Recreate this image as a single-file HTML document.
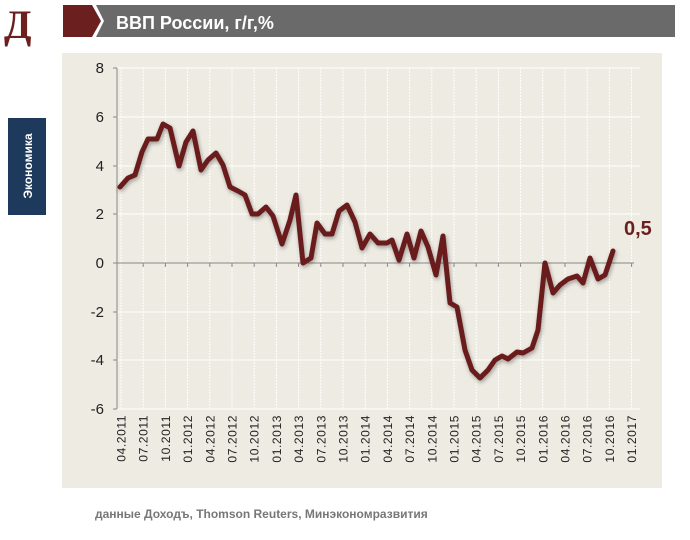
<!DOCTYPE html>
<html><head><meta charset="utf-8"><style>
body{margin:0;width:690px;height:535px;background:#fff;overflow:hidden;font-family:"Liberation Sans",sans-serif;}
</style></head><body>
<svg width="690" height="535" viewBox="0 0 690 535" xmlns="http://www.w3.org/2000/svg">
<defs><filter id="sh" x="-10%" y="-10%" width="120%" height="120%"><feGaussianBlur in="SourceAlpha" stdDeviation="2"/><feOffset dx="1" dy="2"/><feComponentTransfer><feFuncA type="linear" slope="0.35"/></feComponentTransfer><feMerge><feMergeNode/><feMergeNode in="SourceGraphic"/></feMerge></filter></defs>
<text x="4" y="38" font-family="Liberation Serif,serif" font-weight="bold" font-size="40" fill="#6b1f1f">Д</text>
<polygon points="96,5 675,5 675,37 96,37 104,21" fill="#6a6a6a"/>
<polygon points="63,5 92,5 101,21 92,37 63,37" fill="#6b1f1f"/>
<text x="116" y="29" font-size="18" font-weight="bold" fill="#fff">ВВП России, г/г,%</text>
<rect x="8" y="118" width="38" height="97" fill="#1d3a5c"/>
<text transform="translate(32,166) rotate(-90)" text-anchor="middle" font-size="12" font-weight="bold" fill="#fff">Экономика</text>
<rect x="62" y="53" width="600" height="435" fill="#edebe2"/>
<g stroke="#fff" stroke-width="1">
<line x1="117" y1="68" x2="640" y2="68"/><line x1="117" y1="117" x2="640" y2="117"/><line x1="117" y1="166" x2="640" y2="166"/><line x1="117" y1="214" x2="640" y2="214"/><line x1="117" y1="312" x2="640" y2="312"/><line x1="117" y1="360" x2="640" y2="360"/><line x1="117" y1="409" x2="640" y2="409"/>
</g>
<g stroke="#fff" stroke-width="1" stroke-dasharray="2,1">
<path d="M121,68V409M143.2,68V409M165.4,68V409M187.6,68V409M209.8,68V409M232,68V409M254.2,68V409M276.4,68V409M298.6,68V409M320.8,68V409M343,68V409M365.2,68V409M387.4,68V409M409.6,68V409M431.8,68V409M454,68V409M476.2,68V409M498.4,68V409M520.6,68V409M542.8,68V409M565,68V409M587.2,68V409M609.4,68V409M631.6,68V409"/>
</g>
<g stroke="#888" stroke-width="1">
<line x1="117" y1="68" x2="117" y2="409"/><line x1="117" y1="263" x2="634" y2="263"/>
<path d="M113,68H117M113,117H117M113,166H117M113,214H117M113,263H117M113,312H117M113,360H117M113,409H117"/>
<path d="M143.2,263v4M165.4,263v4M187.6,263v4M209.8,263v4M232,263v4M254.2,263v4M276.4,263v4M298.6,263v4M320.8,263v4M343,263v4M365.2,263v4M387.4,263v4M409.6,263v4M431.8,263v4M454,263v4M476.2,263v4M498.4,263v4M520.6,263v4M542.8,263v4M565,263v4M587.2,263v4M609.4,263v4M631.6,263v4"/>
</g>
<g font-size="15" fill="#222" text-anchor="end">
<text x="104" y="73">8</text><text x="104" y="122">6</text><text x="104" y="171">4</text><text x="104" y="219">2</text><text x="104" y="268">0</text><text x="104" y="317">-2</text><text x="104" y="365">-4</text><text x="104" y="414">-6</text>
</g>
<g font-size="12" fill="#222" text-anchor="end" letter-spacing="0.6">
<text transform="translate(125.5,415) rotate(-90)">04.2011</text><text transform="translate(147.7,415) rotate(-90)">07.2011</text><text transform="translate(169.9,415) rotate(-90)">10.2011</text><text transform="translate(192.1,415) rotate(-90)">01.2012</text><text transform="translate(214.3,415) rotate(-90)">04.2012</text><text transform="translate(236.5,415) rotate(-90)">07.2012</text><text transform="translate(258.7,415) rotate(-90)">10.2012</text><text transform="translate(280.9,415) rotate(-90)">01.2013</text><text transform="translate(303.1,415) rotate(-90)">04.2013</text><text transform="translate(325.3,415) rotate(-90)">07.2013</text><text transform="translate(347.5,415) rotate(-90)">10.2013</text><text transform="translate(369.7,415) rotate(-90)">01.2014</text><text transform="translate(391.9,415) rotate(-90)">04.2014</text><text transform="translate(414.1,415) rotate(-90)">07.2014</text><text transform="translate(436.3,415) rotate(-90)">10.2014</text><text transform="translate(458.5,415) rotate(-90)">01.2015</text><text transform="translate(480.7,415) rotate(-90)">04.2015</text><text transform="translate(502.9,415) rotate(-90)">07.2015</text><text transform="translate(525.1,415) rotate(-90)">10.2015</text><text transform="translate(547.3,415) rotate(-90)">01.2016</text><text transform="translate(569.5,415) rotate(-90)">04.2016</text><text transform="translate(591.7,415) rotate(-90)">07.2016</text><text transform="translate(613.9,415) rotate(-90)">10.2016</text><text transform="translate(636.1,415) rotate(-90)">01.2017</text>
</g>
<polyline filter="url(#sh)" fill="none" stroke="#6b1f1f" stroke-width="5" stroke-linejoin="round" stroke-linecap="round" points="120,187 128,178 135,175 142,152 148,139 157,139 163,124 170,128 179,166 186,142 193,131 201,170 208,160 216,153 223,165 230,187 238,191 245,195 252,214 258,214 266,207 273,216 282,244 290,220 296,195 303,263 311,258 317,223 325,234 332,234 339,211 347,205 355,222 362,248 370,234 378,243 387,243 392,240 399,260 407,234 414,258 421,231 428,247 436,275 443,236 450,303 457,307 465,350 472,370 480,378 488,370 495,360 502,356 508,359 517,352 523,353 532,348 538,330 545,263 553,293 560,285 568,279 577,276 583,283 590,258 598,279 605,275 613,251"/>
<text x="624" y="235" font-size="20" font-weight="bold" fill="#6b1f1f">0,5</text>
<text x="95" y="518" font-size="12" font-weight="bold" fill="#777">данные Доходъ, Thomson Reuters, Минэкономразвития</text>
</svg>
</body></html>
